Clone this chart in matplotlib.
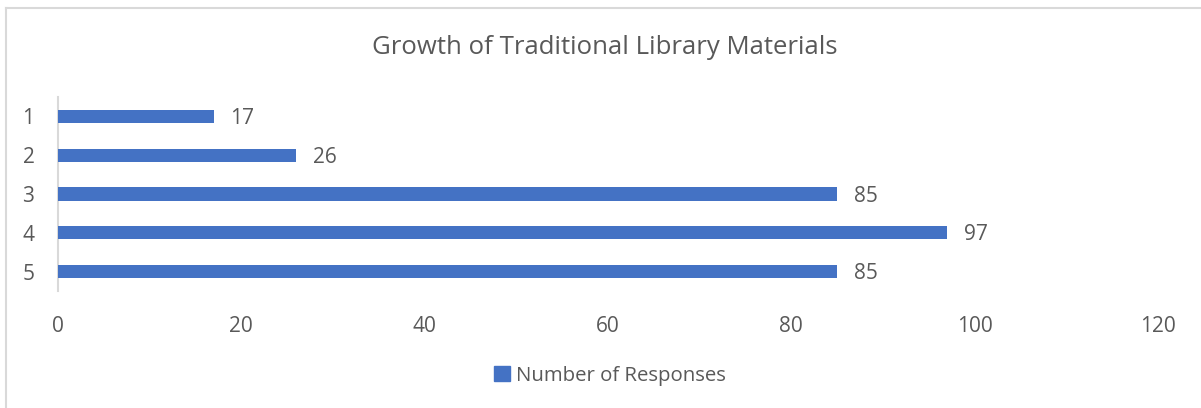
import matplotlib
matplotlib.use("Agg")
import matplotlib.pyplot as plt
from matplotlib.lines import Line2D
from matplotlib.patches import Patch

categories = ["1", "2", "3", "4", "5"]
responses = [17, 26, 85, 97, 85]
xticks = [0, 20, 40, 60, 80, 100, 120]
title = "Growth of Traditional Library Materials"
series_name = "Number of Responses"

W, H = 1201, 408
plt.rcParams['font.family'] = ['Open Sans', 'DejaVu Sans']
fig = plt.figure(figsize=(W / 100, H / 100), dpi=100)
fig.patch.set_facecolor("white")

ax = fig.add_axes([58 / W, (H - 291) / H, (1158 - 58) / W, (291 - 97) / H])
bar_color = "#4472C4"
text_color = "#595959"
fs = 15

ypos = list(range(1, len(categories) + 1))
ax.barh(ypos, responses, height=0.34, color=bar_color, zorder=3)
ax.set_ylim(5.5, 0.5)
ax.set_xlim(0, 120)
ax.set_yticks(ypos)
ax.set_yticklabels(categories)
ax.set_xticks(xticks)
ax.set_xticklabels([str(t) for t in xticks])

for s in ["top", "right", "bottom"]:
    ax.spines[s].set_visible(False)
ax.spines["left"].set_color("#d9d9d9")
ax.spines["left"].set_linewidth(1.5)
ax.tick_params(axis="both", length=0, colors=text_color, labelsize=fs)
ax.tick_params(axis="y", pad=17)
ax.tick_params(axis="x", pad=18)

for y, v in zip(ypos, responses):
    ax.annotate(str(v), (v, y), xytext=(12, -1.5), textcoords="offset points",
                ha="left", va="center", fontsize=fs, color=text_color)

fig.text(605 / W, 1 - 48 / H, title, ha="center", va="center",
         fontsize=18.5, color=text_color)

handle = Patch(facecolor=bar_color, edgecolor=bar_color)
fig.legend([handle], [series_name], loc="center", bbox_to_anchor=(610 / W, 1 - 376 / H),
           frameon=False, fontsize=14.7, labelcolor=text_color,
           handlelength=0.75, handleheight=0.75, handletextpad=0.3)

# chart border (left and top visible)
fig.add_artist(Line2D([6 / W, 6 / W], [0, 1 - 8 / H], transform=fig.transFigure,
                      color="#d9d9d9", linewidth=1.5))
fig.add_artist(Line2D([6 / W, 1], [1 - 8 / H, 1 - 8 / H], transform=fig.transFigure,
                      color="#d9d9d9", linewidth=1.5))

fig.savefig("out.png", dpi=100, facecolor="white")
